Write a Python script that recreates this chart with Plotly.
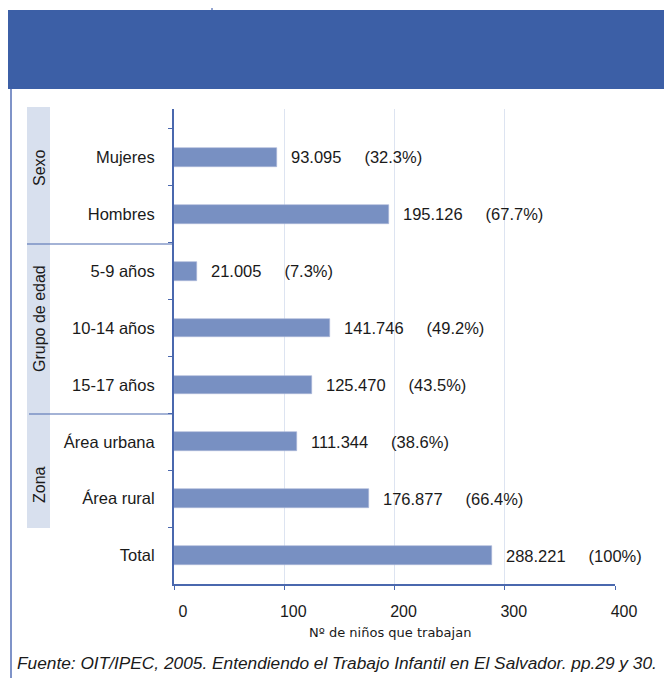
import plotly.graph_objects as go

categories = ["Mujeres", "Hombres", "5-9 años", "10-14 años", "15-17 años",
              "Área urbana", "Área rural", "Total"]
values = [93.095, 195.126, 21.005, 141.746, 125.470, 111.344, 176.877, 288.221]
value_labels = ["93.095", "195.126", "21.005", "141.746", "125.470",
                "111.344", "176.877", "288.221"]
pct_labels = ["(32.3%)", "(67.7%)", "(7.3%)", "(49.2%)", "(43.5%)",
              "(38.6%)", "(66.4%)", "(100%)"]
groups = ["Sexo", "Grupo de edad", "Zona"]
x_ticks = [0, 100, 200, 300, 400]
x_title = "Nº de niños que trabajan"
footer = "Fuente: OIT/IPEC, 2005. Entendiendo el Trabajo Infantil en El Salvador. pp.29 y 30."

# the page adds an 8px body margin; the figure is sized to fit the window
OFF = 8
WIN_W, WIN_H = 672, 678
W, H = WIN_W - OFF, WIN_H - OFF
L, R, T, B = 174, 615, 109, 584  # plot area in window pixels


def px(x):
    return (x - L) / (R - L)


def py(y):
    return (B - y) / (B - T)


FONT = "Liberation Sans, Arial, sans-serif"
AXIS = "#4A68AE"

fig = go.Figure()
fig.add_trace(go.Bar(
    x=values, y=categories, orientation="h", width=0.33,
    marker=dict(color="#7890C2", line=dict(color="#A9B7D9", width=0.6)),
    hoverinfo="skip",
))

annotations = []
for c, v, vl, pl in zip(categories, values, value_labels, pct_labels):
    annotations.append(dict(
        x=v, y=c, xref="x", yref="y", xanchor="left", yanchor="middle",
        xshift=12, showarrow=False,
        text=vl + "\u00a0" * 5 + pl,
        font=dict(family=FONT, size=16.5, color="#1a1a1a"),
    ))

# group labels (rotated)
group_y = [168, 319, 485]
for g, gy in zip(groups, group_y):
    annotations.append(dict(
        x=px(39), y=py(gy), xref="paper", yref="paper", showarrow=False,
        text=g, textangle=-90, xanchor="center", yanchor="middle",
        font=dict(family=FONT, size=16, color="#1a1a1a"),
    ))

# axis title
annotations.append(dict(
    x=px(390), y=py(632), xref="paper", yref="paper", showarrow=False,
    text=x_title, xanchor="center", yanchor="middle",
    font=dict(family="DejaVu Sans, sans-serif", size=13, color="#1a1a1a"),
))

# footer
annotations.append(dict(
    x=px(15), y=py(663), xref="paper", yref="paper", showarrow=False,
    text=footer, xanchor="left", yanchor="middle",
    font=dict(family=FONT, size=17.3, color="#1a1a1a", style="italic"),
))

shapes = [
    # header band
    dict(type="rect", xref="paper", yref="paper", x0=px(8), x1=px(WIN_W + 4),
         y0=py(89), y1=py(10), fillcolor="#3C5FA6", line=dict(width=0), layer="below"),
    # top small vertical line
    dict(type="line", xref="paper", yref="paper", x0=px(212), x1=px(212),
         y0=py(0), y1=py(10), line=dict(color="#6F86C0", width=1.5)),
    # left border line
    dict(type="line", xref="paper", yref="paper", x0=px(11), x1=px(11),
         y0=py(89), y1=py(WIN_H + 4), line=dict(color="#7F93C8", width=2)),
    # group band
    dict(type="rect", xref="paper", yref="paper", x0=px(27), x1=px(50),
         y0=py(528), y1=py(107), fillcolor="#D8E0EE", line=dict(width=0), layer="below"),
    # separators
    dict(type="line", xref="paper", yref="paper", x0=px(27), x1=px(174),
         y0=py(244), y1=py(244), line=dict(color=AXIS, width=1.2)),
    dict(type="line", xref="paper", yref="paper", x0=px(29), x1=px(174),
         y0=py(414), y1=py(414), line=dict(color=AXIS, width=1.2)),
]

fig.update_layout(
    width=W, height=H,
    margin=dict(l=L - OFF, r=WIN_W - R, t=T - OFF, b=WIN_H - B, autoexpand=False),
    paper_bgcolor="white", plot_bgcolor="white",
    showlegend=False, bargap=0,
    annotations=annotations, shapes=shapes,
    font=dict(family=FONT, color="#1a1a1a"),
)
fig.update_xaxes(
    range=[0, 400], tickvals=x_ticks, ticktext=[str(t) for t in x_ticks],
    showgrid=True, gridcolor="#DDE4F1", gridwidth=1.2, zeroline=False,
    showline=True, linecolor=AXIS, linewidth=2,
    ticks="outside", ticklen=4, tickcolor=AXIS,
    tickfont=dict(family=FONT, size=16, color="#1a1a1a"),
    ticklabelshift=9, ticklabelstandoff=8,
)
fig.update_yaxes(
    type="category", categoryorder="array", categoryarray=categories,
    range=[7.5, -0.85], tickson="boundaries",
    showgrid=False, zeroline=False,
    showline=True, linecolor=AXIS, linewidth=2,
    ticks="outside", ticklen=4, tickcolor=AXIS,
    tickfont=dict(family=FONT, size=16.5, color="#1a1a1a"),
    ticklabelstandoff=14,
)

fig.write_html("out.html")
